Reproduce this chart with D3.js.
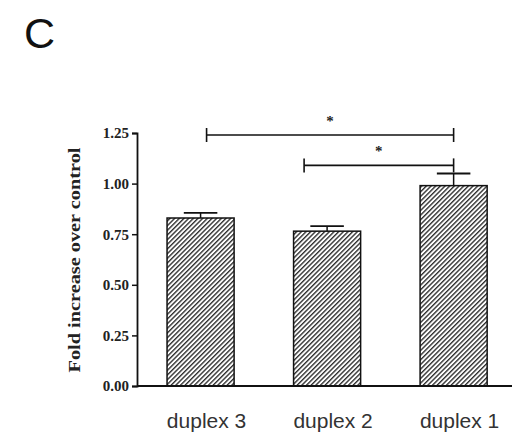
<!DOCTYPE html>
<html>
<head>
<meta charset="utf-8">
<script src="https://cdn.jsdelivr.net/npm/d3@7"></script>
<style>
  body { margin: 0; background: #fff; }
</style>
</head>
<body>
<svg id="vis" width="512" height="435"></svg>
<script>
// data
const categories = ["duplex 3", "duplex 2", "duplex 1"];
const values = [0.83, 0.765, 0.99];
const errors = [0.025, 0.025, 0.06];
const yTicks = [0, 0.25, 0.5, 0.75, 1.0, 1.25];
const sigPairs = [
  { from: "duplex 3", to: "duplex 1", level: 1.24, label: "*" },
  { from: "duplex 2", to: "duplex 1", level: 1.09, label: "*" }
];

const svg = d3.select("#vis");

const x = d3.scaleBand()
  .domain(categories)
  .range([150.6, 503.6])
  .paddingInner(0.47)
  .paddingOuter(0.13);

const y = d3.scaleLinear()
  .domain([0, 1.25])
  .range([386, 133]);

// hatch pattern
const defs = svg.append("defs");
const pat = defs.append("pattern")
  .attr("id", "hatch")
  .attr("patternUnits", "userSpaceOnUse")
  .attr("width", 3.3)
  .attr("height", 10)
  .attr("patternTransform", "rotate(45)");
pat.append("rect").attr("width", 3.3).attr("height", 10).attr("fill", "#fff");
pat.append("line")
  .attr("x1", 0.7).attr("y1", 0).attr("x2", 0.7).attr("y2", 10)
  .attr("stroke", "#222").attr("stroke-width", 1.3);

// panel letter
svg.append("text")
  .attr("x", 24)
  .attr("y", 48)
  .attr("font-family", "Liberation Sans, Arial, sans-serif")
  .attr("font-size", "43px")
  .attr("fill", "#111")
  .text("C");

// bars
svg.selectAll("rect.bar")
  .data(values)
  .enter().append("rect")
  .attr("class", "bar")
  .attr("x", (d, i) => x(categories[i]))
  .attr("y", d => y(d))
  .attr("width", x.bandwidth())
  .attr("height", d => y(0) - y(d))
  .attr("fill", "url(#hatch)")
  .attr("stroke", "#111")
  .attr("stroke-width", 1.5);

// error bars
const cap = x.bandwidth() / 2;
values.forEach((v, i) => {
  const cx = x(categories[i]) + x.bandwidth() / 2;
  svg.append("line")
    .attr("x1", cx).attr("x2", cx)
    .attr("y1", y(v)).attr("y2", y(v + errors[i]))
    .attr("stroke", "#111").attr("stroke-width", 1.5);
  svg.append("line")
    .attr("x1", cx - cap / 2).attr("x2", cx + cap / 2)
    .attr("y1", y(v + errors[i])).attr("y2", y(v + errors[i]))
    .attr("stroke", "#111").attr("stroke-width", 1.8);
});

// axes
const yAxis = svg.append("g")
  .attr("transform", "translate(137,0)")
  .call(d3.axisLeft(y).tickValues(yTicks).tickFormat(d3.format(".2f")).tickSizeOuter(0).tickSize(5));
yAxis.select(".domain").attr("stroke", "#111").attr("stroke-width", 1.8);
yAxis.selectAll(".tick line").attr("stroke", "#111").attr("stroke-width", 1.5);
yAxis.selectAll(".tick text")
  .attr("font-family", "Liberation Serif, Times New Roman, serif")
  .attr("font-weight", "bold")
  .attr("font-size", "15px")
  .attr("fill", "#222")
  .attr("x", -8);

svg.append("line")
  .attr("x1", 137).attr("x2", 512)
  .attr("y1", y(0)).attr("y2", y(0))
  .attr("stroke", "#111").attr("stroke-width", 1.8);

// x labels
svg.selectAll("text.xlab")
  .data(categories)
  .enter().append("text")
  .attr("class", "xlab")
  .attr("x", d => x(d) + x.bandwidth() / 2 + 6)
  .attr("y", 428)
  .attr("text-anchor", "middle")
  .attr("font-family", "Liberation Sans, Arial, sans-serif")
  .attr("font-size", "21px")
  .attr("fill", "#333")
  .text(d => d);

// y label
svg.append("text")
  .attr("transform", "translate(80,260) rotate(-90)")
  .attr("text-anchor", "middle")
  .attr("font-family", "Liberation Serif, Times New Roman, serif")
  .attr("font-weight", "bold")
  .attr("font-size", "16px")
  .attr("fill", "#222")
  .attr("textLength", 225)
  .attr("lengthAdjust", "spacingAndGlyphs")
  .text("Fold increase over control");

// significance brackets (left end offsets as drawn in the figure)
const leftShift = [6, -23];
sigPairs.forEach((p, i) => {
  const x1 = x(p.from) + x.bandwidth() / 2 + leftShift[i];
  const x2 = x(p.to) + x.bandwidth() / 2;
  const yy = y(p.level);
  const g = svg.append("g").attr("stroke", "#111").attr("stroke-width", 1.6);
  g.append("line").attr("x1", x1).attr("x2", x2).attr("y1", yy).attr("y2", yy);
  g.append("line").attr("x1", x1).attr("x2", x1).attr("y1", yy - 7).attr("y2", yy + 7);
  g.append("line").attr("x1", x2).attr("x2", x2).attr("y1", yy - 7).attr("y2", yy + 7);
  svg.append("text")
    .attr("x", (x1 + x2) / 2)
    .attr("y", yy - 9)
    .attr("text-anchor", "middle")
    .attr("font-family", "Liberation Serif, serif")
    .attr("font-weight", "bold")
    .attr("font-size", "15px")
    .attr("fill", "#222")
    .text(p.label);
});
</script>
</body>
</html>
